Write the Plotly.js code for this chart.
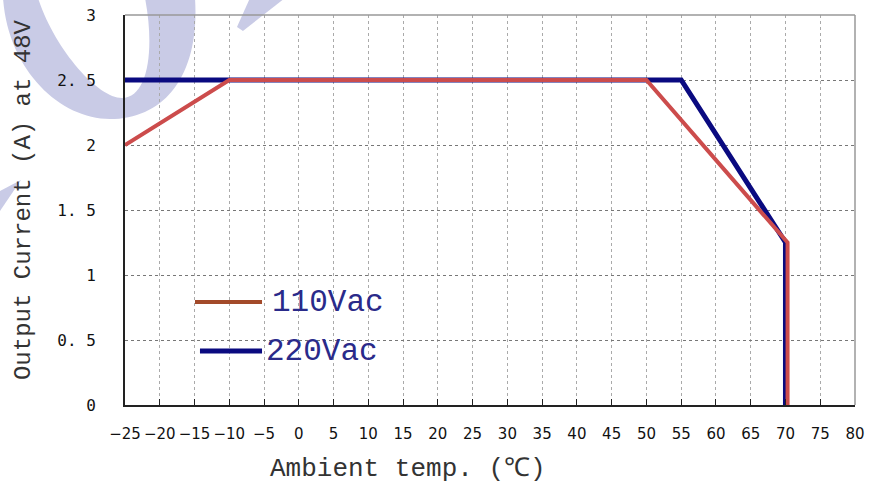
<!DOCTYPE html>
<html><head><meta charset="utf-8">
<script src="https://cdn.plot.ly/plotly-3.0.1.min.js"></script>
<style>body{margin:0;background:#fff}</style>
</head><body><div id="chart" style="width:869px;height:489px"></div>
<script>
// Data
const temp110 = [-25, -10, 50, 70.3, 70.3];
const curr110 = [2, 2.5, 2.5, 1.25, 0];
const temp220 = [-25, 55, 70, 70];
const curr220 = [2.5, 2.5, 1.25, 0];
const seriesNames = ['110Vac', '220Vac'];
const xTickVals = [-25,-20,-15,-10,-5,0,5,10,15,20,25,30,35,40,45,50,55,60,65,70,75,80];
const yTickVals = [0, 0.5, 1, 1.5, 2, 2.5, 3];
const yTickText = ['0', '0. 5', '1', '1. 5', '2', '2. 5', '3'];

// layout geometry (pixels) for decorations
const W = 869, H = 489, ML = 125, MR = 14, MT = 15, MB = 84;
const PW = W - ML - MR, PH = H - MT - MB;
const px = x => ((x - ML) / PW).toFixed(4);
const py = y => ((H - MB - y) / PH).toFixed(4);
const pt = p => px(p[0]) + ',' + py(p[1]);
function pathFrom(pts) {
  return 'M ' + pts.map(pt).join(' L ') + ' Z';
}
// watermark (decorative) as bezier segments
const wmCrescentPath = 'M ' + pt([3,-2]) +
  ' C ' + pt([8,70]) + ' ' + pt([60,119]) + ' ' + pt([110,119]) +
  ' C ' + pt([165,119]) + ' ' + pt([200,75]) + ' ' + pt([195,-2]) +
  ' L ' + pt([145,-2]) +
  ' C ' + pt([155,50]) + ' ' + pt([148,98]) + ' ' + pt([122,98]) +
  ' C ' + pt([98,98]) + ' ' + pt([55,50]) + ' ' + pt([38,-2]) + ' Z';
const wmSlash = [[250,-2],[285,-2],[243,31],[237,27]];
const wmTip = [[-2,192],[21,180],[-2,214]];

const traces = [
  {x: temp220, y: curr220, mode: 'lines', line: {color: '#0a0a80', width: 5}, showlegend: false, hoverinfo: 'skip', name: seriesNames[1]},
  {x: temp110, y: curr110, mode: 'lines', line: {color: '#cc4c4c', width: 4}, showlegend: false, hoverinfo: 'skip', name: seriesNames[0]}
];

const legendLines = [
  {x0: 195, x1: 262, y: 302, color: '#a34a2a', w: 4},
  {x0: 200, x1: 262, y: 351, color: '#0a0a80', w: 5}
];
const wmFill = '#c9cbe6';

const layout = {
  width: W, height: H,
  margin: {l: ML, r: MR, t: MT, b: MB},
  paper_bgcolor: '#fff', plot_bgcolor: 'rgba(0,0,0,0)',
  showlegend: false,
  xaxis: {range: [-25, 80], tickvals: xTickVals, ticks: 'inside', ticklen: 6, tickcolor: '#222',
    showline: true, linecolor: '#222', linewidth: 2,
    showgrid: true, gridcolor: '#aaa', griddash: 'dot', gridwidth: 1, zeroline: false,
    tickfont: {family: 'DejaVu Sans, sans-serif', size: 15, color: '#111'}, ticklabelstandoff: 14},
  yaxis: {range: [0, 3], tickvals: yTickVals, ticktext: yTickText, ticks: '',
    showline: true, linecolor: '#222', linewidth: 2,
    showgrid: true, gridcolor: '#777', griddash: 'dot', gridwidth: 1, zeroline: false,
    tickfont: {family: 'DejaVu Sans Mono, monospace', size: 16, color: '#111'}, ticklabelstandoff: 24},
  shapes: [
    {type: 'path', xref: 'paper', yref: 'paper', path: wmCrescentPath, fillcolor: wmFill, line: {width: 0}, layer: 'below'},
    {type: 'path', xref: 'paper', yref: 'paper', path: pathFrom(wmSlash), fillcolor: wmFill, line: {width: 0}, layer: 'below'},
    {type: 'path', xref: 'paper', yref: 'paper', path: pathFrom(wmTip), fillcolor: wmFill, line: {width: 0}, layer: 'below'},
    {type: 'line', xref: 'paper', yref: 'paper', x0: 0, x1: 1, y0: 1, y1: 1, line: {color: '#999', width: 1.5}},
    {type: 'line', xref: 'paper', yref: 'paper', x0: 1, x1: 1, y0: 0, y1: 1, line: {color: '#999', width: 1.5}}
  ].concat(legendLines.map(l => ({type: 'line', xref: 'paper', yref: 'paper',
    x0: px(l.x0), x1: px(l.x1), y0: py(l.y), y1: py(l.y), line: {color: l.color, width: l.w}}))),
  annotations: [
    {text: 'Ambient temp. (℃)', xref: 'paper', yref: 'paper', x: px(408), y: py(469), xanchor: 'center', yanchor: 'middle',
      showarrow: false, font: {family: 'Liberation Mono, monospace', size: 26, color: '#333'}},
    {text: 'Output Current (A) at 48V', xref: 'paper', yref: 'paper', x: px(23), y: py(200), xanchor: 'center', yanchor: 'middle',
      textangle: -90, showarrow: false, font: {family: 'Liberation Mono, monospace', size: 24, color: '#333'}},
    {text: seriesNames[0], xref: 'paper', yref: 'paper', x: px(270), y: py(302), xanchor: 'left', yanchor: 'middle',
      showarrow: false, font: {family: 'Liberation Mono, monospace', size: 31, color: '#2a2a8a'}},
    {text: seriesNames[1], xref: 'paper', yref: 'paper', x: px(264), y: py(352), xanchor: 'left', yanchor: 'middle',
      showarrow: false, font: {family: 'Liberation Mono, monospace', size: 31, color: '#2a2a8a'}}
  ]
};
Plotly.newPlot('chart', traces, layout, {displayModeBar: false, staticPlot: true});
</script></body></html>
